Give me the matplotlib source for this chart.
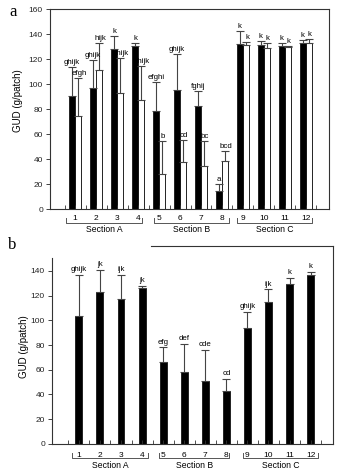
import numpy as np
import matplotlib
matplotlib.use('Agg')
import matplotlib.pyplot as plt
import matplotlib.transforms as mtransforms

plt.rcParams['font.family'] = ['Liberation Sans', 'DejaVu Sans']

# data
patches = np.arange(1, 13)
sections = ['Section A', 'Section B', 'Section C']

# panel a: black and white bars with upper error
a_black = [90.8, 97.0, 128.0, 130.6, 78.8, 95.4, 82.3, 14.4, 132.0, 131.0, 130.3, 132.7]
a_black_err = [23.2, 22.0, 10.6, 1.9, 23.2, 28.3, 12.3, 5.6, 10.6, 3.3, 2.7, 2.7]
a_black_lab = ['ghijk', 'ghijk', 'k', 'k', 'efghi', 'ghijk', 'fghij', 'a', 'k', 'k', 'k', 'k']
a_white = [74.5, 111.6, 93.2, 87.0, 28.3, 37.7, 34.7, 38.7, 131.4, 128.5, 129.3, 132.5]
a_white_err = [30.5, 21.4, 27.8, 27.3, 25.9, 17.3, 19.8, 7.5, 2.1, 4.5, 1.0, 3.2]
a_white_lab = ['efgh', 'hijk', 'ghijk', 'ghijk', 'b', 'cd', 'bc', 'bcd', 'k', 'k', 'k', 'k']

# panel b
b_vals = [103.3, 123.0, 116.8, 126.2, 66.0, 58.5, 51.3, 43.2, 93.9, 114.4, 129.5, 137.0]
b_err = [33.7, 17.8, 20.2, 1.9, 12.0, 22.5, 24.5, 9.4, 12.9, 10.5, 4.8, 2.2]
b_lab = ['ghijk', 'jk', 'ijk', 'jk', 'efg', 'def', 'cde', 'cd', 'ghijk', 'ijk', 'k', 'k']

edge = '#333333'

fig = plt.figure(figsize=(3.37, 4.75), dpi=100)
ax1 = fig.add_axes([0.148, 0.56, 0.828, 0.421])
ax2 = fig.add_axes([0.154, 0.0653, 0.834, 0.4167])


def style_axis(ax, xlim, yticks, ytop, lab_xy):
    ax.set_xlim(*xlim)
    ax.set_ylim(0, ytop)
    ax.set_yticks(yticks)
    ax.set_xticks(np.arange(0.5, 13.0, 0.5))
    ax.set_xticklabels([])
    ax.tick_params(axis='y', labelsize=6, length=3, width=0.6, pad=2, colors='#222222')
    ax.tick_params(axis='x', direction='in', length=3, width=0.6, colors=edge)
    for s in ax.spines.values():
        s.set_linewidth(0.8)
        s.set_color(edge)
    ax.set_ylabel('GUD (g/patch)', fontsize=7)
    ax.yaxis.set_label_coords(*lab_xy)


def draw_sections(ax, spans, num_off, brk_top, brk_bot, sec_off):
    tr = mtransforms.blended_transform_factory(ax.transData, ax.transAxes)
    for p in patches:
        ax.text(p, num_off, str(p), transform=tr, ha='center', va='center', fontsize=6)
    for (x0, x1), name in zip(spans, sections):
        ax.plot([x0, x0, x1, x1], [brk_top, brk_bot, brk_bot, brk_top], transform=tr,
                color='#555555', lw=0.7, clip_on=False)
        ax.text((x0 + x1) / 2, sec_off, name, transform=tr, ha='center', va='center',
                fontsize=6.2)


# panel a
w = 0.29
style_axis(ax1, (-0.206, 13.1), np.arange(0, 161, 20), 160, (-0.097, 0.54))
ax1.bar(patches - w / 2, a_black, w, color='black', edgecolor='black', lw=0.5)
ax1.bar(patches + w / 2, a_white, w, color='white', edgecolor='black', lw=0.6)
ax1.errorbar(patches - w / 2, a_black, yerr=[np.zeros(12), a_black_err], fmt='none',
             ecolor='#444444', elinewidth=0.8, capsize=2.6, capthick=0.8)
ax1.errorbar(patches + w / 2, a_white, yerr=[np.zeros(12), a_white_err], fmt='none',
             ecolor='#444444', elinewidth=0.8, capsize=2.6, capthick=0.8)
for p, v, e, t in zip(patches, a_black, a_black_err, a_black_lab):
    ax1.text(p - w / 2, v + e + 0.8, t, ha='center', va='bottom', fontsize=5.7)
for p, v, e, t in zip(patches, a_white, a_white_err, a_white_lab):
    ax1.text(p + w / 2 + 0.05, v + e + 0.8, t, ha='center', va='bottom', fontsize=5.7)
draw_sections(ax1, [(0.55, 4.2), (4.75, 8.35), (8.7, 12.3)],
              -0.05, -0.044, -0.072, -0.104)
fig.text(0.04, 0.975, 'a', fontsize=12, family='Liberation Serif', va='center', ha='center')

# panel b
wb = 0.33
style_axis(ax2, (-0.28, 13.06), np.arange(0, 141, 20), 160, (-0.082, 0.49))
ax2.spines['left'].set_bounds(0, 150)
ax2.spines['top'].set_bounds(4.4, 13.06)
ax2.bar(patches, b_vals, wb, color='black', edgecolor='black', lw=0.5)
ax2.errorbar(patches, b_vals, yerr=[np.zeros(12), b_err], fmt='none',
             ecolor='#444444', elinewidth=0.8, capsize=2.8, capthick=0.8)
for p, v, e, t in zip(patches, b_vals, b_err, b_lab):
    ax2.text(p, v + e + 1.5, t, ha='center', va='bottom', fontsize=5.7)
draw_sections(ax2, [(0.68, 4.29), (4.81, 8.14), (8.8, 12.36)],
              -0.056, -0.044, -0.072, -0.111)
fig.text(0.037, 0.484, 'b', fontsize=12, family='Liberation Serif', va='center', ha='center')

fig.savefig('out.png', dpi=100)
